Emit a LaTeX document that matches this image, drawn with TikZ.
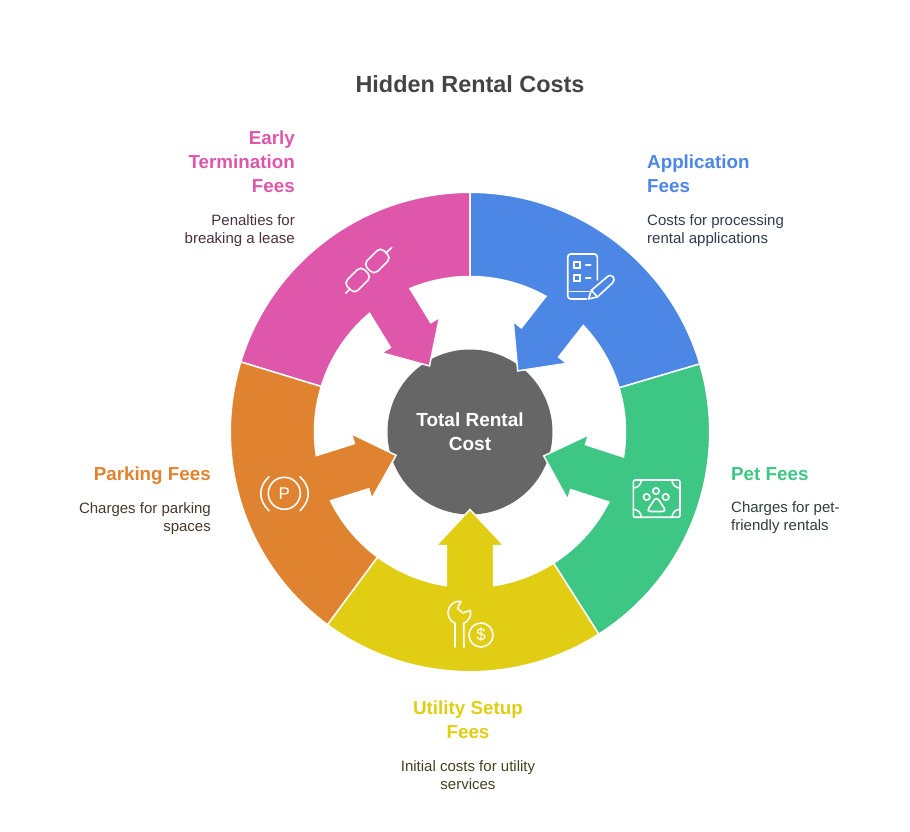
\documentclass[tikz,border=0pt]{standalone}
\usepackage{fontspec}
\setmainfont{Liberation Sans}
\usetikzlibrary{positioning}
\definecolor{appblue}{HTML}{4C87E6}
\definecolor{earlypink}{HTML}{DE57AB}
\definecolor{parkorange}{HTML}{DF8330}
\definecolor{utilyellow}{HTML}{E0CD14}
\definecolor{petgreen}{HTML}{3EC685}
\definecolor{hubgray}{HTML}{666666}
\definecolor{titlegray}{HTML}{444444}
\definecolor{appdesc}{HTML}{2F3B50}
\definecolor{earlydesc}{HTML}{4A3040}
\definecolor{parkdesc}{HTML}{47382A}
\definecolor{utildesc}{HTML}{45411F}
\definecolor{petdesc}{HTML}{2E3F36}
\tikzset{
  headtext/.style={font=\fontsize{18.8}{24}\selectfont\bfseries, inner sep=0pt, text depth=0pt},
  desctext/.style={font=\fontsize{15}{18}\selectfont, inner sep=0pt},
  iconline/.style={draw=white, line width=1.6pt, line cap=round},
  iconspace/.style={shift={(-470,432)}, yscale=-1},
  sectorline/.style={draw=white, line width=1.5pt, line join=miter}
}
\def\ringsector#1#2#3#4{
  \path[sectorline, fill=#1] (#2:239.7) arc[start angle=#2, end angle=#3, radius=239.7pt]
    -- (#3:155.5) arc[start angle=#3, end angle=#4-8.77, radius=155.5pt]
    -- ({#4-11.77}:116.1) -- ({#4-16.65}:118.7) -- (#4:77.5)
    -- ({#4+16.65}:118.7) -- ({#4+11.77}:116.1) -- ({#4+8.77}:155.5)
    arc[start angle=#4+8.77, end angle=#2, radius=155.5pt] -- cycle;
}
\begin{document}
\begin{tikzpicture}[x=1pt, y=1pt]
  \useasboundingbox (-470,-400) rectangle (440,432);

  \node[circle, fill=hubgray, minimum size=165pt, inner sep=0pt, text=white, align=center,
    font=\fontsize{19}{24}\selectfont\bfseries] (hub) at (0,0) {Total Rental\\Cost};

  \ringsector{earlypink}{163}{90}{121.5}
  \ringsector{appblue}{90}{16.5}{52}
  \ringsector{petgreen}{16.5}{-57.5}{-18}
  \ringsector{utilyellow}{-57.5}{-126.5}{-90}
  \ringsector{parkorange}{-126.5}{-197}{-162.5}

  \node[font=\fontsize{23.4}{28}\selectfont\bfseries, text=titlegray] (title) at (0,348) {Hidden Rental Costs};

  \node[headtext, text=appblue, align=left, anchor=north west] (apphead) at (177,277) {Application\\Fees};
  \node[desctext, text=appdesc, align=left, below=21pt of apphead.south west, anchor=north west] (appnote) {Costs for processing\\rental applications};

  \node[headtext, text=earlypink, align=right, anchor=north east] (earlyhead) at (-175,301) {Early\\Termination\\Fees};
  \node[desctext, text=earlydesc, align=right, below=21pt of earlyhead.south east, anchor=north east] (earlynote) {Penalties for\\breaking a lease};

  \node[headtext, text=petgreen, align=left, anchor=north west] (pethead) at (261,-35) {Pet Fees};
  \node[desctext, text=petdesc, align=left, below=21pt of pethead.south west, anchor=north west] (petnote) {Charges for pet-\\friendly rentals};

  \node[headtext, text=parkorange, align=right, anchor=north east] (parkhead) at (-259,-35) {Parking Fees};
  \node[desctext, text=parkdesc, align=right, below=21pt of parkhead.south east, anchor=north east] (parknote) {Charges for parking\\spaces};

  \node[headtext, text=utilyellow, align=center, anchor=north] (utilhead) at (-2,-269) {Utility Setup\\Fees};
  \node[desctext, text=utildesc, align=center, below=21pt of utilhead.south, anchor=north] (utilnote) {Initial costs for utility\\services};

  \begin{scope}[iconspace]
    \draw[iconline, rounded corners=3pt] (597.3,280) -- (597.3,254) -- (567.7,254) -- (567.7,299) -- (586.7,299);
    \draw[iconline] (567.7,291.7) -- (589,291.7);
    \draw[iconline] (574,262.3) rectangle (580,268.3);
    \draw[iconline] (574,275) rectangle (580,281);
    \draw[iconline] (585.7,265.3) -- (590.7,265.3);
    \draw[iconline] (585.7,278) -- (590.7,278);
    \draw[iconline, line join=round] (588.5,299) -- (597.4,296.9) -- (612.5,283) .. controls (616.5,279) and (612,272.5) .. (607,277) -- (591.4,290.3) -- cycle;
    \draw[iconline] (591.4,290.3) -- (597.4,296.9);

    \draw[iconline, rounded corners=2pt] (633.3,480) rectangle (680,517.3);
    \draw[iconline] (641.3,480) arc[start angle=0, end angle=90, radius=8pt];
    \draw[iconline] (672,480) arc[start angle=180, end angle=90, radius=8pt];
    \draw[iconline] (641.3,517.3) arc[start angle=0, end angle=-90, radius=8pt];
    \draw[iconline] (672,517.3) arc[start angle=180, end angle=270, radius=8pt];
    \draw[iconline] (656,491) circle[radius=3.2pt];
    \draw[iconline] (646.7,497) circle[radius=3.2pt];
    \draw[iconline] (665.7,497) circle[radius=3.2pt];
    \draw[iconline, rounded corners=4pt] (656.5,496.5) -- (666.5,511.5) -- (646.5,511.5) -- cycle;

    \draw[iconline, line join=round] (455,647) -- (455,623.3) arc[start angle=113, end angle=277, radius=11.5pt]
      -- (457.5,608.5) -- (463,613) -- (470.4,610.2) arc[start angle=-13, end angle=67, radius=11.5pt] -- (464,647);
    \draw[iconline] (481,635) circle[radius=12pt];
    \node[text=white, font=\fontsize{17}{17}\selectfont, inner sep=0pt] (dollar) at (481,635) {\$};

    \draw[iconline] (284.3,493.3) circle[radius=16pt];
    \node[text=white, font=\fontsize{17}{17}\selectfont, inner sep=0pt] (parksign) at (284.3,493.3) {P};
    \draw[iconline] (269,476.7) .. controls (258,487) and (258,500) .. (269,510.7);
    \draw[iconline] (300,476.7) .. controls (311,487) and (311,500) .. (300,510.7);

    \draw[iconline, rotate around={-45:(377.3,261)}, rounded corners=5pt] (365.3,253.5) rectangle (389.3,268.5);
    \draw[iconline, rotate around={-45:(357.7,280)}, rounded corners=5pt] (345.7,272.5) rectangle (369.7,287.5);
    \draw[iconline] (345.7,293.3) -- (350,288.8);
    \draw[iconline] (386,252.8) -- (391.7,247.7);
  \end{scope}
\end{tikzpicture}
\end{document}
